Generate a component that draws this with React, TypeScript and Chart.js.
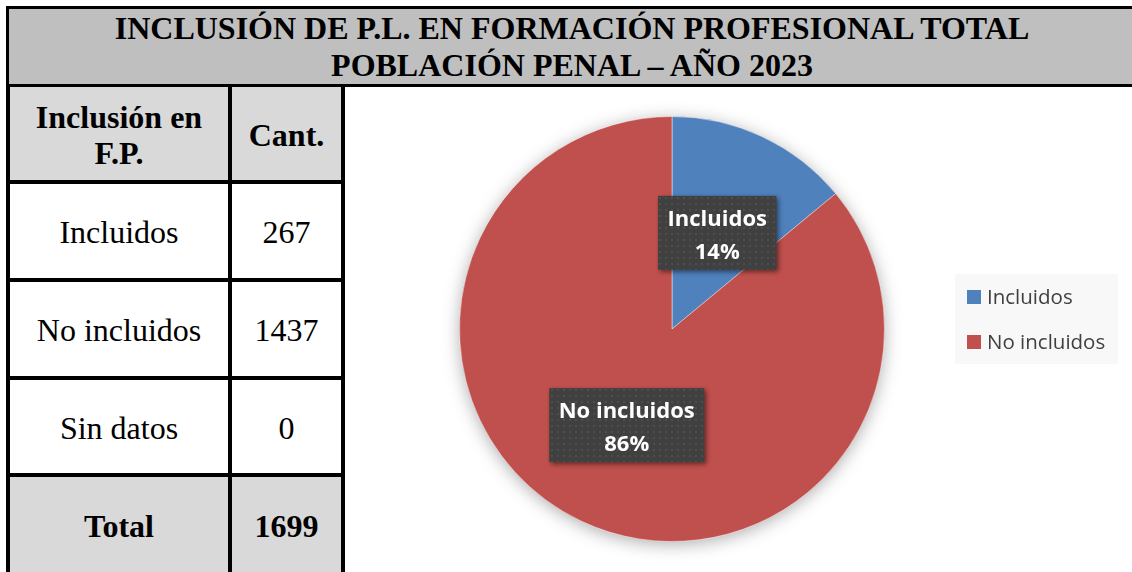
import React, { useEffect, useRef } from "react";
import { Chart, registerables } from "chart.js";

Chart.register(...registerables);

const titleLines = ["INCLUSIÓN DE P.L. EN FORMACIÓN PROFESIONAL TOTAL", "POBLACIÓN PENAL – AÑO 2023"];
const headerLabels = ["Inclusión en\nF.P.", "Cant."];
const tableCategories = ["Incluidos", "No incluidos", "Sin datos"];
const tableCounts = [267, 1437, 0];
const totalLabel = "Total";
const totalCount = 1699;

const pieLabels = ["Incluidos", "No incluidos"];
const piePercents = [14, 86];
const pieColors = ["#4f81bd", "#c0504d"];

const SERIF = "'Liberation Serif', 'Times New Roman', serif";
const SANS = "'Open Sans', 'Noto Sans', sans-serif";

function makePattern(ctx: CanvasRenderingContext2D) {
  const c = document.createElement("canvas");
  c.width = 6;
  c.height = 6;
  const p = c.getContext("2d")!;
  p.fillStyle = "#404040";
  p.fillRect(0, 0, 6, 6);
  p.fillStyle = "#4e4e4e";
  p.fillRect(2, 2, 2, 2);
  return ctx.createPattern(c, "repeat");
}

const pieShadowPlugin = {
  id: "pieShadow",
  beforeDatasetsDraw(chart: any) {
    const meta = chart.getDatasetMeta(0);
    const arc = meta.data[0];
    if (!arc) return;
    const { x, y, outerRadius } = arc.getProps(["x", "y", "outerRadius"], true);
    const ctx = chart.ctx;
    ctx.save();
    ctx.shadowColor = "rgba(0,0,0,0.35)";
    ctx.shadowBlur = 18;
    ctx.shadowOffsetY = 3;
    ctx.fillStyle = pieColors[1];
    ctx.beginPath();
    ctx.arc(x, y, outerRadius - 1, 0, Math.PI * 2);
    ctx.fill();
    ctx.restore();
  },
};

const labelPlugin = {
  id: "boxLabels",
  afterDatasetsDraw(chart: any) {
    const ctx: CanvasRenderingContext2D = chart.ctx;
    const meta = chart.getDatasetMeta(0);
    const data = chart.data.datasets[0].data as number[];
    const total = data.reduce((a, b) => a + b, 0);
    const pattern = makePattern(ctx);
    meta.data.forEach((arc: any, i: number) => {
      const pos = arc.tooltipPosition(true);
      const l1 = String(chart.data.labels[i]);
      const l2 = Math.round((data[i] / total) * 100) + "%";
      ctx.save();
      ctx.font = `bold 22px ${SANS}`;
      const w = Math.max(ctx.measureText(l1).width, ctx.measureText(l2).width) + 19;
      const h = 74;
      const bx = pos.x - w / 2;
      const by = pos.y - h / 2;
      ctx.shadowColor = "rgba(0,0,0,0.5)";
      ctx.shadowBlur = 5;
      ctx.shadowOffsetX = 2;
      ctx.shadowOffsetY = 2;
      ctx.fillStyle = pattern || "#404040";
      ctx.fillRect(bx, by, w, h);
      ctx.shadowColor = "transparent";
      ctx.fillStyle = "#ffffff";
      ctx.textAlign = "center";
      ctx.textBaseline = "middle";
      ctx.fillText(l1, pos.x, pos.y - 13);
      ctx.fillText(l2, pos.x, pos.y + 20);
      ctx.restore();
    });
  },
};

const legendPlugin = {
  id: "sideLegend",
  afterDraw(chart: any) {
    const ctx: CanvasRenderingContext2D = chart.ctx;
    const labels = chart.data.labels as string[];
    const colors = chart.data.datasets[0].backgroundColor as string[];
    const bx = 610;
    const by = 187;
    ctx.save();
    ctx.fillStyle = "#f8f8f8";
    ctx.fillRect(bx, by, 163, 90);
    ctx.font = `20.5px ${SANS}`;
    ctx.textBaseline = "middle";
    ctx.textAlign = "left";
    labels.forEach((lab, i) => {
      const cy = by + 23 + i * 45;
      ctx.fillStyle = colors[i];
      ctx.fillRect(bx + 12, cy - 7, 14, 14);
      ctx.fillStyle = "#404040";
      ctx.fillText(lab, bx + 32, cy + 1);
    });
    ctx.restore();
  },
};

function PieChart() {
  const ref = useRef<HTMLCanvasElement | null>(null);
  useEffect(() => {
    if (!ref.current) return;
    const chart = new Chart(ref.current, {
      type: "pie",
      data: {
        labels: pieLabels,
        datasets: [
          {
            data: piePercents,
            backgroundColor: pieColors,
            borderColor: "rgba(255,255,255,0.45)",
            borderWidth: 1,
          },
        ],
      },
      options: {
        animation: false,
        responsive: false,
        maintainAspectRatio: false,
        layout: { padding: { left: 114, right: 247, top: 29, bottom: 30 } },
        plugins: {
          legend: { display: false },
          tooltip: { enabled: false },
          title: { display: false },
        },
      },
      plugins: [pieShadowPlugin, labelPlugin, legendPlugin],
    });
    return () => chart.destroy();
  }, []);
  return (
    <canvas
      ref={ref}
      width={787}
      height={485}
      style={{ position: "absolute", left: 345, top: 87, width: 787, height: 485 }}
    />
  );
}

const colX = [10, 232];
const colW = [218, 109];
const rowY = [87, 184, 282, 380, 477];
const rowH = [93, 94, 94, 93, 95];

function Cell(props: { x: number; y: number; w: number; h: number; bg: string; bold?: boolean; text: string }) {
  const lines = props.text.split("\n");
  return (
    <div
      style={{
        position: "absolute",
        left: props.x,
        top: props.y,
        width: props.w,
        height: props.h,
        background: props.bg,
        display: "flex",
        flexDirection: "column",
        justifyContent: "center",
        alignItems: "center",
        fontFamily: SERIF,
        fontSize: 32,
        lineHeight: "36px",
        fontWeight: props.bold ? "bold" : "normal",
        color: "#000",
        paddingTop: 2,
        boxSizing: "border-box",
      }}
    >
      {lines.map((l, i) => (
        <div key={i} style={{ whiteSpace: "nowrap" }}>{l}</div>
      ))}
    </div>
  );
}

export default function App() {
  const rows: { a: string; b: string; bg: string; bold: boolean }[] = [
    { a: headerLabels[0], b: headerLabels[1], bg: "#d9d9d9", bold: true },
    ...tableCategories.map((c, i) => ({ a: c, b: String(tableCounts[i]), bg: "#ffffff", bold: false })),
    { a: totalLabel, b: String(totalCount), bg: "#d9d9d9", bold: true },
  ];
  const hLines = [180, 278, 376, 473];
  return (
    <div
      style={{
        position: "fixed",
        left: 0,
        top: 0,
        width: 1132,
        height: 572,
        overflow: "hidden",
        background: "#ffffff",
      }}
    >
      <div
        style={{
          position: "absolute",
          left: 6,
          top: 6,
          width: 1132,
          height: 81,
          boxSizing: "border-box",
          border: "3px solid #000",
          background: "#bfbfbf",
          display: "flex",
          flexDirection: "column",
          justifyContent: "center",
          alignItems: "center",
          fontFamily: SERIF,
          fontWeight: "bold",
          fontSize: 32,
          lineHeight: "37px",
          color: "#000",
        }}
      >
        {titleLines.map((t, i) => (
          <div key={i} style={{ whiteSpace: "nowrap" }}>{t}</div>
        ))}
      </div>
      {rows.map((r, i) => (
        <React.Fragment key={i}>
          <Cell x={colX[0]} y={rowY[i]} w={colW[0]} h={rowH[i]} bg={r.bg} bold={r.bold} text={r.a} />
          <Cell x={colX[1]} y={rowY[i]} w={colW[1]} h={rowH[i]} bg={r.bg} bold={r.bold} text={r.b} />
        </React.Fragment>
      ))}
      <div style={{ position: "absolute", left: 6, top: 84, width: 4, height: 488, background: "#000" }} />
      <div style={{ position: "absolute", left: 228, top: 84, width: 4, height: 488, background: "#000" }} />
      <div style={{ position: "absolute", left: 341, top: 84, width: 4, height: 488, background: "#000" }} />
      {hLines.map((y, i) => (
        <div key={i} style={{ position: "absolute", left: 6, top: y, width: 339, height: 4, background: "#000" }} />
      ))}
      <PieChart />
    </div>
  );
}
